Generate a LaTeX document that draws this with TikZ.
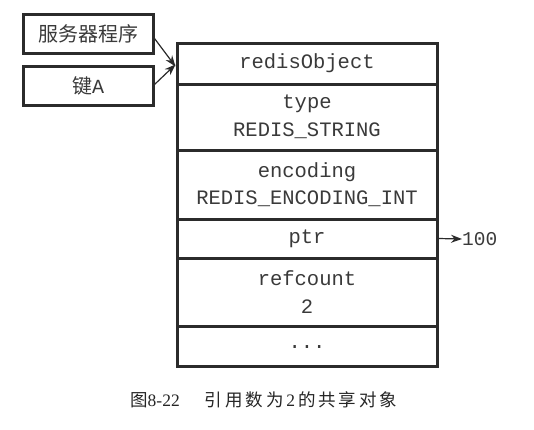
\documentclass[tikz,border=0pt]{standalone}
\usepackage{fontspec}
\setmainfont{Liberation Serif}
\setmonofont{Liberation Mono}
\newfontfamily\cjk{Noto Sans CJK SC}
\usetikzlibrary{arrows.meta}
\definecolor{edgec}{HTML}{2B2B2B}
\definecolor{txtc}{HTML}{3A3A3A}
\begin{document}
\begin{tikzpicture}[x=1pt,y=-1pt,
  cell/.style={draw=edgec,line width=3pt,minimum width=260pt,inner sep=0pt,
    align=center,text=txtc,font=\ttfamily\fontsize{20.5}{27.5}\selectfont},
  keybox/.style={draw=edgec,line width=3pt,minimum width=130pt,minimum height=39pt,
    inner sep=0pt,text=txtc,font=\fontsize{20}{24}\selectfont},
  ptrarrow/.style={draw=edgec,line width=1.2pt,-{Stealth[length=11pt,width=8pt]}}]
\useasboundingbox[fill=white] (0,0) rectangle (534,429);
% left boxes
\node[keybox] (k1) at (88,33.5) {\cjk 服务器程序};
\node[keybox] (k2) at (88,85.5) {{\cjk 键}{\ttfamily A}};
% table cells
\node[cell,minimum height=41pt] (r1) at (307,63.5) {redisObject};
\node[cell,minimum height=66pt] (r2) at (307,117) {type\\REDIS\_STRING};
\node[cell,minimum height=69pt] (r3) at (307,184.5) {encoding\\REDIS\_ENCODING\_INT};
\node[cell,minimum height=39pt] (r4) at (307,238.5) {ptr};
\node[cell,minimum height=68pt] (r5) at (307,292) {refcount\\2};
\node[cell,minimum height=40pt] (r6) at (307,346) {\raisebox{-4pt}{...}};
% arrows
\draw[ptrarrow] ([yshift=-5pt]k1.east) -- ([yshift=-3pt]r1.west);
\draw[ptrarrow] ([yshift=1pt]k2.east) -- ([yshift=-1pt]r1.west);
\node[anchor=west,inner sep=0pt,text=txtc,font=\ttfamily\fontsize{19.5}{24}\selectfont] (v) at (462,239) {100};
\draw[ptrarrow] (r4.east) -- (v.west);
% caption
\node[anchor=west,inner sep=0pt,text=black!85,font=\fontsize{17.5}{20}\selectfont] (cap) at (130,400)
  {{\cjk 图}8-22\hspace{25pt}{\cjk 引\,用\,数\,为}\,2{\cjk \,的\,共\,享\,对\,象}};
\end{tikzpicture}
\end{document}
